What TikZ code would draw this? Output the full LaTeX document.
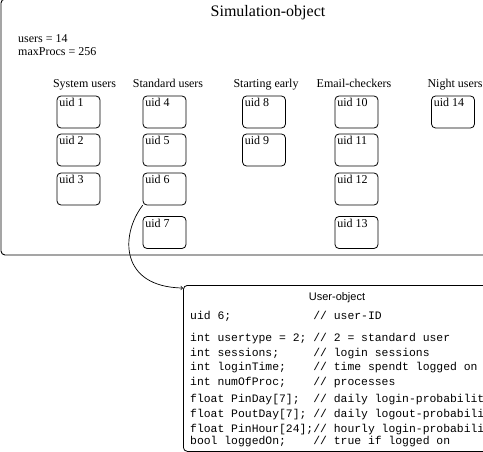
\documentclass[tikz,border=0pt]{standalone}
\usepackage{fontspec}
\setmainfont{Liberation Serif}
\newfontfamily\codefont{Liberation Mono}
\newfontfamily\headfont{Liberation Sans}
\begin{document}
\begin{tikzpicture}[x=1pt, y=-1pt, line cap=round, line join=round,
    frame/.style={draw, line width=0.9pt, rounded corners=4pt},
    uidbox/.style={draw, line width=0.8pt, rounded corners=4pt,
      minimum width=43pt, minimum height=32pt, inner sep=0pt,
      label={[anchor=north west, inner sep=2.5pt,
        font=\fontsize{12}{14}\selectfont]north west:#1}},
    group/.style={font=\fontsize{12}{14}\selectfont, inner sep=0pt},
    code/.style={font=\codefont\fontsize{11.4}{14.8}\selectfont,
      align=left, inner sep=0pt}]
  \useasboundingbox (0,0) rectangle (483,452);
  % Simulation-object
  \draw[frame] (1,-1) rectangle (495,255);
  \node[font=\fontsize{16}{18}\selectfont, inner sep=0pt] (title) at (268,13) {Simulation-object};
  \node[group, anchor=base west] (users) at (18,43) {users = 14};
  \node[group, anchor=base west] (maxprocs) at (18,56) {maxProcs = 256};
  % groups
  \node[group, anchor=base] (sys) at (84.5,88) {System users};
  \node[group, anchor=base] (std) at (168,88) {Standard users};
  \node[group, anchor=base] (early) at (266,88) {Starting early};
  \node[group, anchor=base] (mail) at (354,88) {Email-checkers};
  \node[group, anchor=base] (night) at (455,88) {Night users};
  % users
  \node[uidbox={uid 1}] (u1) at (78.5,112) {};
  \node[uidbox={uid 2}] (u2) at (78.5,150) {};
  \node[uidbox={uid 3}] (u3) at (78.5,189) {};
  \node[uidbox={uid 4}] (u4) at (164.5,112) {};
  \node[uidbox={uid 5}] (u5) at (164.5,150) {};
  \node[uidbox={uid 6}] (u6) at (164.5,189) {};
  \node[uidbox={uid 7}] (u7) at (164.5,232.5) {};
  \node[uidbox={uid 8}] (u8) at (264,112) {};
  \node[uidbox={uid 9}] (u9) at (264,150) {};
  \node[uidbox={uid 10}] (u10) at (356.5,112) {};
  \node[uidbox={uid 11}] (u11) at (356.5,150) {};
  \node[uidbox={uid 12}] (u12) at (356.5,189) {};
  \node[uidbox={uid 13}] (u13) at (356.5,232.5) {};
  \node[uidbox={uid 14}] (u14) at (453,112) {};
  % User-object
  \node[frame, line width=0.8pt, anchor=north west, minimum width=330pt,
    minimum height=166pt, inner sep=0pt] (obj) at (183,285) {};
  \node[font=\headfont\fontsize{11}{13}\selectfont, inner sep=0pt] (objtitle) at (337,298) {User-object};
  \node[code, anchor=north west] (fields) at (190,311) {%
    uid 6;~~~~~~~~~~~~// user-ID\\[7pt]
    int usertype = 2; // 2 = standard user\\
    int sessions;~~~~~// login sessions\\
    int loginTime;~~~~// time spendt logged on\\
    int numOfProc;~~~~// processes\\[2pt]
    float PinDay[7];~~// daily login-probability\\
    float PoutDay[7]; // daily logout-probability\\
    float PinHour[24];// hourly login-probability\\[-2.5pt]
    bool loggedOn;~~~~// true if logged on};
  \coordinate (tip) at ([yshift=-3pt]obj.north west);
  \draw[->, line width=0.7pt] (u6.south west) .. controls (120,235) and (120,287) .. (tip);
\end{tikzpicture}
\end{document}
